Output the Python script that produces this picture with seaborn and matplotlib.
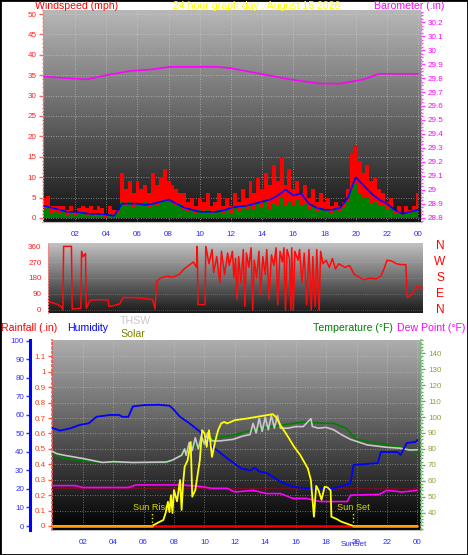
import numpy as np
import pandas as pd
import matplotlib
matplotlib.use("Agg")
import matplotlib.pyplot as plt
import matplotlib.transforms as mtransforms
from matplotlib.patches import Rectangle
from matplotlib.ticker import MultipleLocator, FixedLocator, FixedFormatter
import seaborn as sns

# ---------------------------------------------------------------- data
title_text = "24 hour graph day : August 15 2026"
hour_ticks = [2, 4, 6, 8, 10, 12, 14, 16, 18, 20, 22, 24]
hour_labels = ["02", "04", "06", "08", "10", "12", "14", "16", "18", "20", "22", "00"]

# wind (mph), quarter-hour samples 00:00 .. 24:00
wind_t = np.arange(0, 24.01, 0.25)
wind_gust = [5, 5.5, 3, 3, 3, 3, 2, 3, 1.5, 2.5, 3, 2.5, 3, 2, 3, 2.5,
             1, 3, 2, 2, 11, 7, 9, 6, 9, 7, 8, 6, 11, 8, 10, 12,
             9, 8, 7, 6, 6, 4, 5, 3, 5, 4, 6, 3, 4, 6, 3, 5,
             3, 6, 4, 7, 5, 9, 6, 10, 7, 11, 8, 13, 9, 15, 8, 12,
             7, 9, 6, 8, 5, 7, 4, 6, 4, 5, 3, 4, 3, 4, 7, 16,
             18, 14, 11, 13, 9, 10, 7, 6, 4, 5, 2, 3, 1, 3, 2, 3, 6]
wind_speed = [2, 2.5, 1, 1.5, 1, 1.5, 0.5, 1.5, 0.5, 1, 1.5, 0.5, 1, 0.5, 1, 0.5,
              0, 1, 0.5, 1, 4, 3, 4, 2.5, 3.5, 3, 4, 2.5, 3.5, 3, 4, 4.5,
              4, 3.5, 3, 3.5, 2, 1.5, 2, 1, 2, 1.5, 2, 1, 1.5, 2, 1, 2,
              1, 2.5, 1.5, 3, 2, 3, 2, 3.5, 2.5, 4, 2, 3.5, 3, 5, 3, 4,
              3, 4.5, 3, 3.5, 2, 3, 1.5, 2.5, 1.5, 2, 1, 2, 1.5, 2.5, 4, 7,
              8.5, 6, 5, 5, 3.5, 4, 3, 3, 2, 2.5, 1, 1, 0.5, 1, 1, 1.5, 2]
avg_t = np.arange(0, 24.01, 0.5)
wind_avg = [3, 2.5, 2, 1.5, 1.5, 1.2, 1, 1, 0.8, 0.5, 3.5, 3.5, 3.5, 3.2, 3.5, 4,
            4.5, 3.5, 2.5, 2, 1.5, 1.5, 1.5, 1.8, 2.5, 2.8, 3, 3.5, 4, 4.5, 5.5, 7,
            5.5, 6, 3.5, 2.5, 2, 2, 2.5, 5, 10, 8, 6, 4.5, 3.5, 2, 1, 1.5, 2]

# barometer (in)
baro_t = [0, 2.75, 4, 5.5, 6.8, 8.1, 9.8, 11.1, 12, 13.9, 15.8, 17.7, 19, 20.5, 21.5, 22.6, 24]
baro_in = [29.81, 29.79, 29.82, 29.85, 29.86, 29.88, 29.88, 29.88, 29.87, 29.83,
           29.79, 29.76, 29.76, 29.79, 29.83, 29.83, 29.83]
baro_ticks = [28.8, 28.9, 29.0, 29.1, 29.2, 29.3, 29.4, 29.5, 29.6, 29.7, 29.8, 29.9, 30.0, 30.1, 30.2]
wind_ticks = [0, 5, 10, 15, 20, 25, 30, 35, 40, 45, 50]

# wind direction (degrees)
dir_t = [0.0, 0.3, 0.6, 0.85, 0.95, 1.0, 1.5, 1.55, 2.1, 2.15, 2.25, 2.4, 2.45, 2.7, 3.2,
         3.85, 3.9, 4.2, 4.6, 4.8, 5.5, 6.2, 6.7, 6.85, 6.95, 7.2, 7.6, 8.0, 8.4, 8.7,
         9.0, 9.3, 9.5, 9.55, 9.6, 10.05, 10.1, 10.3, 10.5, 10.6, 10.8, 11.0, 11.1, 11.3, 11.5,
         11.6, 11.8, 11.9, 12.0, 12.1, 12.2, 12.35, 12.5, 12.6, 12.7, 12.85, 13.0, 13.1, 13.2, 13.35,
         13.5, 13.6, 13.75, 13.9, 14.0, 14.15, 14.3, 14.45, 14.6, 14.7, 14.85, 15.0, 15.1, 15.2, 15.3,
         15.45, 15.55, 15.6, 15.7, 15.8, 16.0, 16.1, 16.25, 16.4, 16.55, 16.7, 16.85, 16.95, 17.1, 17.2,
         17.35, 17.45, 17.6, 17.8, 18.0, 18.2, 18.4, 18.6, 18.8, 19.0, 19.3, 19.6, 19.9, 20.2, 20.6,
         21.0, 21.3, 21.5, 21.7, 22.0, 22.3, 22.6, 22.9, 23.0, 23.3, 23.6, 23.8, 24.0]
dir_deg = [48, 40, 32, 18, 2, 358, 358, 5, 10, 330, 300, 318, 10, 55, 58,
           57, 20, 25, 35, 70, 70, 65, 58, 5, 160, 180, 190, 185, 200, 230,
           250, 270, 240, 358, 30, 30, 358, 260, 340, 210, 300, 150, 330, 200, 320,
           250, 330, 180, 290, 60, 300, 150, 340, 20, 320, 240, 350, 0, 280, 180,
           330, 90, 300, 200, 340, 60, 310, 250, 350, 30, 330, 270, 350, 0, 340,
           290, 0, 350, 0, 330, 280, 340, 150, 320, 30, 340, 0, 300, 20, 340,
           0, 330, 260, 280, 240, 290, 230, 260, 250, 240, 250, 200, 185, 170, 180,
           175, 190, 230, 280, 275, 260, 255, 255, 70, 90, 130, 130, 115]
dir_ticks = [0, 90, 180, 270, 360]
compass_labels = ["N", "E", "S", "W", "N"]

# rainfall (in), hourly
rain_t = list(range(25))
rain_in = [0.0] * 25
rain_ticks = [0.0, 0.1, 0.2, 0.3, 0.4, 0.5, 0.6, 0.7, 0.8, 0.9, 1.0, 1.1]
rain_labels = ["0", "0.1", "0.2", "0.3", "0.4", "0.5", "0.6", "0.7", "0.8", "0.9", "1", "1.1"]

# humidity (%)
hum_t = [0, 0.5, 1.2, 1.8, 2.4, 2.9, 3.8, 4.4, 4.6, 5.0, 5.3, 6.0, 7.0, 7.7, 7.9, 8.4, 9.0, 9.7,
         10.5, 11.5, 12.4, 13.0, 13.3, 13.6, 14.1, 15.0, 15.8, 16.7, 18.5, 19.0, 19.6, 19.8,
         21.4, 21.6, 22.7, 22.9, 23.3, 23.9, 24.0]
hum_pct = [53, 51.5, 52.8, 54.6, 55.5, 59, 60, 60, 59, 59, 64.6, 65.3, 65.5, 65, 63.6, 59, 55.6, 51,
           43, 36.6, 31.2, 30, 31.5, 29.5, 28.6, 24, 21.2, 20.4, 20.4, 21.5, 23, 33,
           34, 40, 40, 38.4, 44.8, 45.5, 46.5]
hum_ticks = [0, 10, 20, 30, 40, 50, 60, 70, 80, 90, 100]

# temperature (F)
temp_t = [0, 0.8, 2.6, 3.9, 5.3, 7.5, 7.9, 8.7, 9.7, 10.5, 11.9, 13.2, 14.5, 15.8, 16.7, 17.6,
          18.5, 19.3, 19.6, 20.0, 21.4, 22.9, 23.9, 24.0]
temp_f = [77.3, 74, 72, 71.5, 71, 71, 72.8, 77.5, 83.5, 86.7, 88.7, 92, 94, 96, 97, 96.2,
          96, 93, 90, 86, 83.5, 81, 77.8, 77.5]
temp_ticks = [40, 50, 60, 70, 80, 90, 100, 110, 120, 130, 140]

# THSW index (F)
thsw_t = [0, 0.3, 0.8, 2.0, 3.3, 4.0, 5.3, 7.5, 7.9, 8.5, 8.7, 8.8, 9.0, 9.2, 9.4, 9.6, 9.8,
          10.0, 10.2, 10.5, 11.0, 11.9, 12.5, 13.0, 13.2, 13.4, 13.6, 13.8, 14.0, 14.2, 14.4,
          14.6, 14.8, 15.0, 15.5, 16.0, 16.5, 17.0, 17.1, 17.5, 18.0, 18.5, 19.0, 19.6, 20.7,
          22.0, 22.9, 23.5, 24.0]
thsw_f = [78.5, 77, 76, 74, 71.5, 72, 71.5, 71.8, 73, 76, 80, 76, 84, 79, 87, 80, 88,
          83, 90, 85, 85, 86, 88, 89, 96, 90, 99, 91, 100, 92, 101,
          93, 101, 93, 93, 94, 94, 99, 94, 93, 93.5, 92, 89, 86, 82.5,
          81, 80.4, 79.3, 79.5]

# dew point (F)
dew_t = [0, 1.5, 2.0, 5.0, 5.5, 8.5, 9.7, 10.5, 11.5, 12.0, 13.2, 14.1, 15.0, 15.8, 16.7,
         17.6, 19.4, 19.6, 21.5, 22.0, 23.0, 24.0]
dew_f = [57, 57, 55.8, 55.8, 57.4, 57.4, 56.5, 55.3, 55.3, 53, 54, 52, 52, 49, 49,
         47, 47, 51, 51.5, 54, 53, 54]
ref_line_f = 55.3

# solar radiation (W/m2)
solar_t = [0, 6.55, 6.9, 7.3, 7.45, 7.6, 7.7, 7.8, 7.9, 8.0, 8.2, 8.4, 8.5, 8.6, 8.7, 8.9,
           9.1, 9.2, 9.4, 9.7, 9.85, 10.0, 10.15, 10.3, 10.5, 10.7, 10.9, 11.1, 11.3, 11.5,
           12.0, 12.8, 13.7, 14.5, 14.7, 15.0, 15.5, 15.9, 16.3, 16.8, 17.0, 17.2, 17.35,
           17.5, 17.7, 17.9, 18.1, 18.3, 18.35, 18.7, 19.0, 19.8, 24]
solar_wm2 = [0, 0, 19, 39, 84, 157, 90, 200, 84, 233, 160, 298, 104, 278, 384, 427,
             545, 190, 233, 427, 621, 602, 513, 621, 448, 545, 621, 665, 675, 665,
             686, 697, 712, 725, 707, 654, 578, 513, 460, 373, 298, 60, 260,
             233, 170, 254, 250, 230, 60, 45, 28, 0, 0]
sunrise_h = 6.55
sunset_h = 19.8

# ---------------------------------------------------------------- style
sns.set_style("white")
plt.rcParams["font.family"] = ["Liberation Sans", "DejaVu Sans"]

W, H = 468, 555
fig = plt.figure(figsize=(W / 100, H / 100), dpi=100)
fig.patch.set_facecolor("white")
PX = 0.72  # points per pixel
TICK_FS = 5.8
HEAD_FS = 7.6
XLAB_COLOR = "#2a2aff"


def rect(l, t, r, b):
    return [l / W, 1 - b / H, (r - l) / W, (b - t) / H]


def gradient(ax, top, bottom):
    g = np.linspace(bottom, top, 256).reshape(-1, 1)
    ax.imshow(g, extent=[0, 1, 0, 1], transform=ax.transAxes, origin="lower",
              cmap="gray", vmin=0, vmax=1, aspect="auto",
              interpolation="bilinear", zorder=0)


def hide_spines(ax, keep=()):
    for name, sp in ax.spines.items():
        sp.set_visible(name in keep)


def hour_axis(ax):
    ax.xaxis.set_major_locator(FixedLocator(hour_ticks))
    ax.xaxis.set_major_formatter(FixedFormatter(hour_labels))
    ax.xaxis.set_minor_locator(MultipleLocator(1))
    ax.tick_params(axis="x", which="both", colors="#b8b8b8", labelcolor=XLAB_COLOR,
                   labelsize=TICK_FS, length=3 * PX, width=1, pad=6 * PX)
    ax.tick_params(axis="x", which="minor", length=2 * PX)


def fx(px):
    return px / W


def fy(py):
    return 1 - py / H


# ---------------------------------------------------------------- top panel: wind + barometer
ax1 = fig.add_axes(rect(43, 10, 421, 222))
gradient(ax1, 0.72, 0.07)
ax1.fill_between(wind_t, 0, wind_gust, step="mid", color="#ff0000", lw=0, zorder=2)
ax1.fill_between(wind_t, 0, wind_speed, step="mid", color="#008000", lw=0, zorder=3)
sns.lineplot(x=avg_t, y=wind_avg, ax=ax1, color="#0000ff", lw=1.2, zorder=4)
ax1.set_xlim(-0.06, 24.19)
ax1.set_ylim(-1, 51)
ax1.set_xlabel("")
ax1.set_ylabel("")
ax1.yaxis.set_major_locator(FixedLocator(wind_ticks))
ax1.yaxis.set_major_formatter(FixedFormatter([str(v) for v in wind_ticks]))
ax1.yaxis.set_minor_locator(MultipleLocator(1))
ax1.tick_params(axis="y", which="both", colors="#ff6060", labelcolor="#ff2020",
                labelsize=TICK_FS, length=4 * PX, width=1, pad=2.5 * PX)
ax1.tick_params(axis="y", which="minor", length=1.5 * PX)
hour_axis(ax1)
hide_spines(ax1, keep=("left", "bottom"))
ax1.spines["left"].set_color("#ff8080")
ax1.spines["left"].set_linestyle(":")
ax1.spines["bottom"].set_color("#c0c0c0")
ax1.grid(True, which="major", color="#d8d8d8", ls=(0, (1, 2)), lw=0.6, alpha=0.7)

ax1b = ax1.twinx()
sns.lineplot(x=baro_t, y=baro_in, ax=ax1b, color="#ff00ff", lw=1.2)
ax1b.set_ylim(28.771, 30.286)
ax1b.set_ylabel("")
ax1b.yaxis.set_major_locator(FixedLocator(baro_ticks))
ax1b.yaxis.set_major_formatter(FixedFormatter([f"{v:g}" for v in baro_ticks]))
ax1b.yaxis.set_minor_locator(MultipleLocator(0.025))
ax1b.tick_params(axis="y", which="both", colors="#ff40ff", labelcolor="#ff00ff",
                 labelsize=TICK_FS, length=4 * PX, width=1, pad=3 * PX)
ax1b.tick_params(axis="y", which="minor", length=1.5 * PX)
hide_spines(ax1b, keep=("right",))
ax1b.spines["right"].set_color("#ff60ff")
ax1b.spines["right"].set_linestyle(":")

fig.text(fx(35), fy(9), "Windspeed (mph)", color="#ff0000", fontsize=HEAD_FS,
         ha="left", va="baseline")
fig.text(fx(173), fy(9), title_text, color="#ffff00", fontsize=HEAD_FS,
         ha="left", va="baseline")
fig.text(fx(374), fy(9), "Barometer (.in)", color="#ff00ff", fontsize=HEAD_FS,
         ha="left", va="baseline")

# ---------------------------------------------------------------- middle panel: wind direction
ax2 = fig.add_axes(rect(48, 243, 423, 313))
gradient(ax2, 0.76, 0.1)
sns.lineplot(x=dir_t, y=dir_deg, ax=ax2, color="#ff0a0a", lw=1.1)
ax2.set_xlim(0, 24)
ax2.set_ylim(-16.9, 376.9)
ax2.set_xlabel("")
ax2.set_ylabel("")
ax2.set_xticks([])
ax2.yaxis.set_major_locator(FixedLocator(dir_ticks))
ax2.yaxis.set_major_formatter(FixedFormatter([str(v) for v in dir_ticks]))
ax2.yaxis.set_minor_locator(MultipleLocator(18))
ax2.tick_params(axis="y", which="both", colors="#ff6060", labelcolor="#ff2020",
                labelsize=TICK_FS, length=4 * PX, width=1, pad=2.5 * PX)
ax2.tick_params(axis="y", which="minor", length=1.5 * PX)
hide_spines(ax2, keep=("left",))
ax2.spines["left"].set_color("#ff8080")
ax2.spines["left"].set_linestyle(":")
ax2.grid(True, axis="y", which="major", color="#d0d0d0", ls=(0, (1, 2)), lw=0.5, alpha=0.5)
btr = mtransforms.blended_transform_factory(ax2.transAxes, ax2.transData)
for deg, lab in zip(dir_ticks, compass_labels):
    ax2.text((440 - 48) / 375, deg, lab, transform=btr, color="#ff0000",
             fontsize=8.6, ha="center", va="center")

# ---------------------------------------------------------------- bottom panel
ax3 = fig.add_axes(rect(52, 340, 421, 530))
gradient(ax3, 0.68, 0.0)
sns.lineplot(x=rain_t, y=rain_in, ax=ax3, color="#ff0000", lw=1.8, zorder=3)
ax3.set_xlim(-0.02, 24.24)
ax3.set_ylim(-0.026, 1.206)
ax3.set_xlabel("")
ax3.set_ylabel("")
ax3.yaxis.set_major_locator(FixedLocator(rain_ticks))
ax3.yaxis.set_major_formatter(FixedFormatter(rain_labels))
ax3.tick_params(axis="y", which="both", colors="#ff6040", labelcolor="#ff3a10",
                labelsize=TICK_FS, length=4 * PX, width=1, pad=2.5 * PX)
hour_axis(ax3)
hide_spines(ax3, keep=("left", "bottom"))
ax3.spines["left"].set_color("#ff5050")
ax3.spines["left"].set_linestyle(":")
ax3.spines["left"].set_linewidth(1.2)
ax3.spines["bottom"].set_color("#c0c0c0")
ax3.grid(True, which="major", color="#d8d8d8", ls=(0, (1, 2)), lw=0.6, alpha=0.6)

# sunrise / sunset markers
ymin_frac = 0.026 / 1.232
ymax_frac = (0.09 + 0.026) / 1.232
for h, lab in ((sunrise_h, "Sun Rise"), (sunset_h, "Sun Set")):
    ax3.axvline(h, ymin=ymin_frac, ymax=ymax_frac, color="#e8e800", ls=":", lw=1, zorder=4)
    ax3.text(h, 0.123, lab, color="#d8d800", fontsize=6.6, ha="center", va="center", zorder=6)
sbt = mtransforms.blended_transform_factory(ax3.transData, ax3.transAxes)
ax3.text(sunset_h, -14 / 190, "SunSet", transform=sbt, color=XLAB_COLOR,
         fontsize=TICK_FS, ha="center", va="center")

# temperature / THSW / dew point axis (right)
ax3t = ax3.twinx()
sns.lineplot(x=dew_t, y=dew_f, ax=ax3t, color="#ff00ff", lw=1.2)
ax3t.axhline(ref_line_f, color="#701020", lw=1.0, zorder=1)
sns.lineplot(x=temp_t, y=temp_f, ax=ax3t, color="#008000", lw=1.2)
sns.lineplot(x=thsw_t, y=thsw_f, ax=ax3t, color="#c8c8c8", lw=1.2)
ax3t.set_ylim(29.15, 148.3)
ax3t.set_ylabel("")
ax3t.yaxis.set_major_locator(FixedLocator(temp_ticks))
ax3t.yaxis.set_major_formatter(FixedFormatter([str(v) for v in temp_ticks]))
ax3t.yaxis.set_minor_locator(MultipleLocator(2))
ax3t.tick_params(axis="y", which="both", colors="#60b060", labelcolor="#9a9a35",
                 labelsize=TICK_FS, length=4 * PX, width=1, pad=3 * PX)
ax3t.tick_params(axis="y", which="minor", length=1.5 * PX)
hide_spines(ax3t, keep=("right",))
ax3t.spines["right"].set_color("#70c070")
ax3t.spines["right"].set_linestyle(":")
ax3t.spines["right"].set_linewidth(1.2)

# humidity axis (outer left)
ax3h = ax3.twinx()
sns.lineplot(x=hum_t, y=hum_pct, ax=ax3h, color="#0000ff", lw=1.3)
ax3h.set_ylim(-2.16, 100.5)
ax3h.set_ylabel("")
ax3h.yaxis.tick_left()
ax3h.yaxis.set_major_locator(FixedLocator(hum_ticks))
ax3h.yaxis.set_major_formatter(FixedFormatter([str(v) for v in hum_ticks]))
ax3h.yaxis.set_minor_locator(MultipleLocator(2))
ax3h.tick_params(axis="y", which="both", colors="#3030ff", labelcolor="#3030ff",
                 labelsize=TICK_FS, length=4 * PX, width=1, pad=2 * PX)
ax3h.tick_params(axis="y", which="minor", length=1.5 * PX)
hide_spines(ax3h, keep=("left",))
ax3h.spines["left"].set_position(("axes", -(52 - 30) / (421 - 52)))
ax3h.spines["left"].set_color("#0000ff")
ax3h.spines["left"].set_linewidth(2.2)

# solar (hidden axis)
ax3s = ax3.twinx()
solar_df = pd.DataFrame({"t": solar_t, "w": solar_wm2})
sns.lineplot(data=solar_df, x="t", y="w", ax=ax3s, color="#ffff00", lw=1.3)
night_a = solar_df[solar_df["t"] <= sunrise_h]
night_b = solar_df[solar_df["t"] >= sunset_h]
sns.lineplot(data=night_a, x="t", y="w", ax=ax3s, color="#ff9900", lw=1.8)
sns.lineplot(data=night_b, x="t", y="w", ax=ax3s, color="#ff9900", lw=1.8)
ax3s.set_ylim(-26, 1206)
ax3s.set_ylabel("")
ax3s.set_yticks([])
hide_spines(ax3s)

# legend-like headers for the bottom panel
fig.text(fx(1), fy(331), "Rainfall (.in)", color="#ff0000", fontsize=HEAD_FS, ha="left", va="baseline")
fig.text(fx(67), fy(331), "Humidity", color="#0000ff", fontsize=HEAD_FS, ha="left", va="baseline")
fig.text(fx(120), fy(324), "THSW", color="#c8c8c8", fontsize=HEAD_FS, ha="left", va="baseline")
fig.text(fx(120), fy(337), "Solar", color="#808000", fontsize=HEAD_FS, ha="left", va="baseline")
fig.text(fx(313), fy(331), "Temperature (°F)", color="#008000", fontsize=HEAD_FS, ha="left", va="baseline")
fig.text(fx(397), fy(331), "Dew Point (°F)", color="#ff00ff", fontsize=HEAD_FS, ha="left", va="baseline")

# outer frame
fig.add_artist(Rectangle((0, 0), 1, 1, transform=fig.transFigure, fill=False,
                         ec="black", lw=2))

fig.savefig("out.png", dpi=100, facecolor="white")
